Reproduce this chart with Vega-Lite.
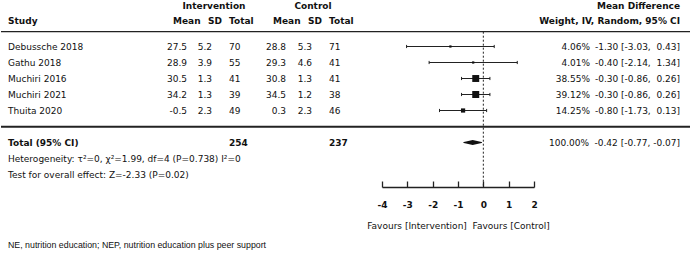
{
  "$schema": "https://vega.github.io/schema/vega-lite/v6.json",
  "padding": 0,
  "spacing": 0,
  "bounds": "flush",
  "config": {
    "view": {"stroke": null},
    "locale": {"number": {"decimal": ".", "thousands": ",", "grouping": [3], "currency": ["$", ""], "minus": "-"}},
    "text": {"font": "DejaVu Sans", "fontSize": 9, "baseline": "middle", "color": "#111"},
    "axis": {"labelFont": "DejaVu Sans", "titleFont": "DejaVu Sans"},
    "axisX": {"offset": -66, "grid": false, "tickSize": -6, "tickWidth": 1.3, "tickColor": "#222", "domainColor": "#222", "domainWidth": 1.3, "labelPadding": 23, "labelBaseline": "middle", "labelFontWeight": "bold", "labelFontSize": 9, "labelColor": "#111", "labelFlush": false, "labelOverlap": false, "titleFontWeight": "normal", "titleFontSize": 9, "titleColor": "#111", "titlePadding": 12}
  },
  "datasets": {
    "studies": [
      {"row": 1, "study": "Debussche 2018", "m1": 27.5, "sd1": 5.2, "n1": 70, "m2": 28.8, "sd2": 5.3, "n2": 71, "weight": 0.0406, "md": -1.30, "lo": -3.03, "hi": 0.43, "ci": "-1.30 [-3.03, \u00a00.43]"},
      {"row": 2, "study": "Gathu 2018", "m1": 28.9, "sd1": 3.9, "n1": 55, "m2": 29.3, "sd2": 4.6, "n2": 41, "weight": 0.0401, "md": -0.40, "lo": -2.14, "hi": 1.34, "ci": "-0.40 [-2.14, \u00a01.34]"},
      {"row": 3, "study": "Muchiri 2016", "m1": 30.5, "sd1": 1.3, "n1": 41, "m2": 30.8, "sd2": 1.3, "n2": 41, "weight": 0.3855, "md": -0.30, "lo": -0.86, "hi": 0.26, "ci": "-0.30 [-0.86, \u00a00.26]"},
      {"row": 4, "study": "Muchiri 2021", "m1": 34.2, "sd1": 1.3, "n1": 39, "m2": 34.5, "sd2": 1.2, "n2": 38, "weight": 0.3912, "md": -0.30, "lo": -0.86, "hi": 0.26, "ci": "-0.30 [-0.86, \u00a00.26]"},
      {"row": 5, "study": "Thuita 2020", "m1": -0.5, "sd1": 2.3, "n1": 49, "m2": 0.3, "sd2": 2.3, "n2": 46, "weight": 0.1425, "md": -0.80, "lo": -1.73, "hi": 0.13, "ci": "-0.80 [-1.73, \u00a00.13]"}
    ],
    "total": [
      {"row": 7, "label": "Total (95% CI)", "n1": 254, "n2": 237, "weight": 1.0, "md": -0.42, "lo": -0.77, "hi": -0.07, "ci": "-0.42 [-0.77, -0.07]"}
    ],
    "notes": [
      {"row": 8, "text": "Heterogeneity: τ²=0, χ²=1.99, df=4 (P=0.738) I²=0"},
      {"row": 9, "text": "Test for overall effect: Z=-2.33 (P=0.02)"}
    ]
  },
  "hconcat": [
    {
      "width": 381,
      "height": 253,
      "data": {"name": "studies"},
      "layer": [
        {"data": {"values": [{}]}, "mark": {"type": "rule", "color": "#222", "strokeWidth": 1.2}, "encoding": {"y": {"datum": 0.075, "type": "quantitative", "scale": {"domain": [-1.90625, 13.90625], "reverse": true, "nice": false, "zero": false}, "axis": null}}},
        {"data": {"values": [{}]}, "mark": {"type": "rule", "color": "#222", "strokeWidth": 2}, "encoding": {"y": {"datum": 6.01, "type": "quantitative", "axis": null}}},
        {"data": {"values": [{"label": "Study"}]}, "mark": {"type": "text", "align": "left", "fontWeight": "bold"}, "encoding": {"x": {"value": 7}, "y": {"datum": -0.6, "type": "quantitative", "axis": null}, "text": {"field": "label"}}},
        {"data": {"values": [{"label": "Intervention"}]}, "mark": {"type": "text", "align": "center", "fontWeight": "bold"}, "encoding": {"x": {"value": 213}, "y": {"datum": -1.55, "type": "quantitative", "axis": null}, "text": {"field": "label"}}},
        {"data": {"values": [{"label": "Control"}]}, "mark": {"type": "text", "align": "center", "fontWeight": "bold"}, "encoding": {"x": {"value": 312}, "y": {"datum": -1.55, "type": "quantitative", "axis": null}, "text": {"field": "label"}}},
        {"data": {"values": [{"label": "Mean"}]}, "mark": {"type": "text", "align": "left", "fontWeight": "bold"}, "encoding": {"x": {"value": 172}, "y": {"datum": -0.6, "type": "quantitative", "axis": null}, "text": {"field": "label"}}},
        {"data": {"values": [{"label": "SD"}]}, "mark": {"type": "text", "align": "left", "fontWeight": "bold"}, "encoding": {"x": {"value": 207}, "y": {"datum": -0.6, "type": "quantitative", "axis": null}, "text": {"field": "label"}}},
        {"data": {"values": [{"label": "Total"}]}, "mark": {"type": "text", "align": "left", "fontWeight": "bold"}, "encoding": {"x": {"value": 228}, "y": {"datum": -0.6, "type": "quantitative", "axis": null}, "text": {"field": "label"}}},
        {"data": {"values": [{"label": "Mean"}]}, "mark": {"type": "text", "align": "left", "fontWeight": "bold"}, "encoding": {"x": {"value": 272}, "y": {"datum": -0.6, "type": "quantitative", "axis": null}, "text": {"field": "label"}}},
        {"data": {"values": [{"label": "SD"}]}, "mark": {"type": "text", "align": "left", "fontWeight": "bold"}, "encoding": {"x": {"value": 307}, "y": {"datum": -0.6, "type": "quantitative", "axis": null}, "text": {"field": "label"}}},
        {"data": {"values": [{"label": "Total"}]}, "mark": {"type": "text", "align": "left", "fontWeight": "bold"}, "encoding": {"x": {"value": 328}, "y": {"datum": -0.6, "type": "quantitative", "axis": null}, "text": {"field": "label"}}},
        {"mark": {"type": "text", "align": "left"}, "encoding": {"x": {"value": 7}, "y": {"field": "row", "type": "quantitative", "axis": null}, "text": {"field": "study"}}},
        {"mark": {"type": "text", "align": "right"}, "encoding": {"x": {"value": 186}, "y": {"field": "row", "type": "quantitative", "axis": null}, "text": {"field": "m1", "format": ".1f"}}},
        {"mark": {"type": "text", "align": "right"}, "encoding": {"x": {"value": 211}, "y": {"field": "row", "type": "quantitative", "axis": null}, "text": {"field": "sd1", "format": ".1f"}}},
        {"mark": {"type": "text", "align": "left"}, "encoding": {"x": {"value": 228}, "y": {"field": "row", "type": "quantitative", "axis": null}, "text": {"field": "n1"}}},
        {"mark": {"type": "text", "align": "right"}, "encoding": {"x": {"value": 285}, "y": {"field": "row", "type": "quantitative", "axis": null}, "text": {"field": "m2", "format": ".1f"}}},
        {"mark": {"type": "text", "align": "right"}, "encoding": {"x": {"value": 311}, "y": {"field": "row", "type": "quantitative", "axis": null}, "text": {"field": "sd2", "format": ".1f"}}},
        {"mark": {"type": "text", "align": "left"}, "encoding": {"x": {"value": 328}, "y": {"field": "row", "type": "quantitative", "axis": null}, "text": {"field": "n2"}}},
        {"data": {"name": "total"}, "mark": {"type": "text", "align": "left", "fontWeight": "bold"}, "encoding": {"x": {"value": 7}, "y": {"field": "row", "type": "quantitative", "axis": null}, "text": {"field": "label"}}},
        {"data": {"name": "total"}, "mark": {"type": "text", "align": "left", "fontWeight": "bold"}, "encoding": {"x": {"value": 228}, "y": {"field": "row", "type": "quantitative", "axis": null}, "text": {"field": "n1"}}},
        {"data": {"name": "total"}, "mark": {"type": "text", "align": "left", "fontWeight": "bold"}, "encoding": {"x": {"value": 328}, "y": {"field": "row", "type": "quantitative", "axis": null}, "text": {"field": "n2"}}},
        {"data": {"name": "notes"}, "mark": {"type": "text", "align": "left"}, "encoding": {"x": {"value": 7}, "y": {"field": "row", "type": "quantitative", "axis": null}, "text": {"field": "text"}}},
        {"data": {"values": [{"text": "NE, nutrition education; NEP, nutrition education plus peer support"}]}, "mark": {"type": "text", "align": "left", "font": "Liberation Sans", "fontSize": 8.8}, "encoding": {"x": {"value": 7}, "y": {"datum": 13.4, "type": "quantitative", "axis": null}, "text": {"field": "text"}}}
      ]
    },
    {
      "width": 152,
      "height": 253,
      "data": {"name": "studies"},
      "resolve": {"scale": {"size": "independent"}},
      "layer": [
        {"data": {"values": [{}]}, "mark": {"type": "rule", "color": "#222", "strokeWidth": 1.2}, "encoding": {"y": {"datum": 0.075, "type": "quantitative", "scale": {"domain": [-1.90625, 13.90625], "reverse": true, "nice": false, "zero": false}, "axis": null}}},
        {"data": {"values": [{}]}, "mark": {"type": "rule", "color": "#222", "strokeWidth": 2}, "encoding": {"y": {"datum": 6.01, "type": "quantitative", "axis": null}}},
        {"mark": {"type": "rule", "color": "#222", "strokeWidth": 1}, "encoding": {
          "x": {"field": "lo", "type": "quantitative", "title": "Favours [Intervention]\u00a0 Favours [Control]", "scale": {"domain": [-4, 2], "nice": false, "zero": false}, "axis": {"values": [-4, -3, -2, -1, 0, 1, 2], "tickCount": 10, "format": "d"}},
          "x2": {"field": "hi"},
          "y": {"field": "row", "type": "quantitative", "axis": null}}},
        {"data": {"values": [{}]}, "mark": {"type": "rule", "color": "#222", "strokeWidth": 1, "strokeDash": [2, 2]}, "encoding": {"x": {"datum": 0, "type": "quantitative", "title": "Favours [Intervention]\u00a0 Favours [Control]", "axis": {"values": [-4, -3, -2, -1, 0, 1, 2], "tickCount": 10, "format": "d"}}, "y": {"datum": 0.075, "type": "quantitative", "axis": null}, "y2": {"datum": 9.8}}},
        {"mark": {"type": "point", "shape": "M0,-1L0,1", "filled": false, "size": 10, "strokeWidth": 1, "color": "#222", "opacity": 1}, "encoding": {"x": {"field": "lo", "type": "quantitative", "title": "Favours [Intervention]\u00a0 Favours [Control]", "axis": {"values": [-4, -3, -2, -1, 0, 1, 2], "tickCount": 10, "format": "d"}}, "y": {"field": "row", "type": "quantitative", "axis": null}}},
        {"mark": {"type": "point", "shape": "M0,-1L0,1", "filled": false, "size": 10, "strokeWidth": 1, "color": "#222", "opacity": 1}, "encoding": {"x": {"field": "hi", "type": "quantitative", "title": "Favours [Intervention]\u00a0 Favours [Control]", "axis": {"values": [-4, -3, -2, -1, 0, 1, 2], "tickCount": 10, "format": "d"}}, "y": {"field": "row", "type": "quantitative", "axis": null}}},
        {"mark": {"type": "point", "shape": "square", "filled": true, "color": "#111", "opacity": 1}, "encoding": {"x": {"field": "md", "type": "quantitative", "title": "Favours [Intervention]\u00a0 Favours [Control]", "axis": {"values": [-4, -3, -2, -1, 0, 1, 2], "tickCount": 10, "format": "d"}}, "y": {"field": "row", "type": "quantitative", "axis": null}, "size": {"field": "weight", "type": "quantitative", "scale": {"domain": [0, 0.4], "range": [0, 50]}, "legend": null}}},
        {"data": {"name": "total"}, "transform": [{"fold": ["lo", "md", "hi"], "as": ["key", "value"]}], "mark": {"type": "trail", "color": "#111"}, "encoding": {"x": {"field": "value", "type": "quantitative", "title": "Favours [Intervention]\u00a0 Favours [Control]", "axis": {"values": [-4, -3, -2, -1, 0, 1, 2], "tickCount": 10, "format": "d"}}, "y": {"field": "row", "type": "quantitative", "axis": null}, "size": {"field": "key", "type": "nominal", "scale": {"type": "ordinal", "domain": ["lo", "md", "hi"], "range": [0, 5, 0]}, "legend": null}}}
      ]
    },
    {
      "width": 157,
      "height": 253,
      "data": {"name": "studies"},
      "layer": [
        {"data": {"values": [{}]}, "mark": {"type": "rule", "color": "#222", "strokeWidth": 1.2}, "encoding": {"y": {"datum": 0.075, "type": "quantitative", "scale": {"domain": [-1.90625, 13.90625], "reverse": true, "nice": false, "zero": false}, "axis": null}}},
        {"data": {"values": [{}]}, "mark": {"type": "rule", "color": "#222", "strokeWidth": 2}, "encoding": {"y": {"datum": 6.01, "type": "quantitative", "axis": null}}},
        {"data": {"values": [{"label": "Mean Difference"}]}, "mark": {"type": "text", "align": "right", "fontWeight": "bold"}, "encoding": {"x": {"value": 146}, "y": {"datum": -1.55, "type": "quantitative", "axis": null}, "text": {"field": "label"}}},
        {"data": {"values": [{"label": "Weight, IV, Random, 95% CI"}]}, "mark": {"type": "text", "align": "right", "fontWeight": "bold"}, "encoding": {"x": {"value": 146}, "y": {"datum": -0.6, "type": "quantitative", "axis": null}, "text": {"field": "label"}}},
        {"mark": {"type": "text", "align": "right"}, "encoding": {"x": {"value": 56}, "y": {"field": "row", "type": "quantitative", "axis": null}, "text": {"field": "weight", "format": ".2%"}}},
        {"mark": {"type": "text", "align": "right"}, "encoding": {"x": {"value": 146}, "y": {"field": "row", "type": "quantitative", "axis": null}, "text": {"field": "ci"}}},
        {"data": {"name": "total"}, "mark": {"type": "text", "align": "right"}, "encoding": {"x": {"value": 55}, "y": {"field": "row", "type": "quantitative", "axis": null}, "text": {"field": "weight", "format": ".2%"}}},
        {"data": {"name": "total"}, "mark": {"type": "text", "align": "right"}, "encoding": {"x": {"value": 146}, "y": {"field": "row", "type": "quantitative", "axis": null}, "text": {"field": "ci"}}}
      ]
    }
  ]
}
